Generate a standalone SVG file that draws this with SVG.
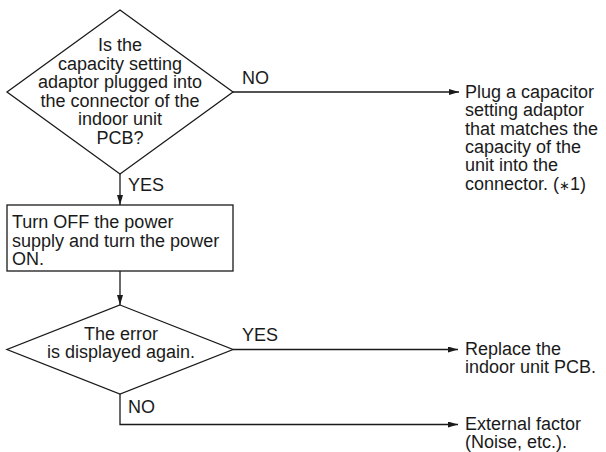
<svg xmlns="http://www.w3.org/2000/svg" width="606" height="452" viewBox="0 0 606 452">
  <defs>
    <marker id="arrow" viewBox="0 0 10 6" refX="10" refY="3" markerWidth="10" markerHeight="6" markerUnits="userSpaceOnUse" orient="auto">
      <path d="M0,0 L10,3 L0,6 Z" fill="#1a1a1a"/>
    </marker>
    <style>
      .shape { fill: #ffffff; stroke: #1a1a1a; stroke-width: 1.3; }
      .conn { fill: none; stroke: #1a1a1a; stroke-width: 1.3; }
      text { font-family: "Liberation Sans", Arial, sans-serif; font-size: 18px; fill: #1a1a1a; }
      .mid { text-anchor: middle; }
      .star { font-family: "DejaVu Sans", sans-serif; font-size: 13px; }
    </style>
  </defs>
  <rect width="606" height="452" fill="#ffffff"/>

  <g id="connectors">
    <polyline class="conn" points="233,92 459,92" marker-end="url(#arrow)"/>
    <polyline class="conn" points="120,174 120,205" marker-end="url(#arrow)"/>
    <polyline class="conn" points="120,271 120,305" marker-end="url(#arrow)"/>
    <polyline class="conn" points="233,349.5 458,349.5" marker-end="url(#arrow)"/>
    <polyline class="conn" points="120,394 120,424.5 458,424.5" marker-end="url(#arrow)"/>
    <text x="242" y="83.5">NO</text>
    <text x="128" y="191">YES</text>
    <text x="242" y="340.5">YES</text>
    <text x="128" y="413">NO</text>
  </g>

  <g id="q-adaptor">
    <polygon class="shape" points="120,10 233,92 120,174 7,92"/>
    <text class="mid" x="120" y="51">Is the</text>
    <text class="mid" x="120" y="69.5">capacity setting</text>
    <text class="mid" x="120" y="88">adaptor plugged into</text>
    <text class="mid" x="120" y="106.5">the connector of the</text>
    <text class="mid" x="120" y="125">indoor unit</text>
    <text class="mid" x="120" y="143.5">PCB?</text>
  </g>

  <g id="plug-adaptor">
    <text x="465" y="98">Plug a capacitor</text>
    <text x="465" y="116.3">setting adaptor</text>
    <text x="465" y="134.6">that matches the</text>
    <text x="465" y="152.9">capacity of the</text>
    <text x="465" y="171.2">unit into the</text>
    <text x="465" y="189.5">connector. (<tspan class="star">∗</tspan>1)</text>
  </g>

  <g id="power-cycle">
    <rect class="shape" x="7" y="205" width="226" height="66"/>
    <text x="12" y="228.3">Turn OFF the power</text>
    <text x="12" y="246.6">supply and turn the power</text>
    <text x="12" y="264.9">ON.</text>
  </g>

  <g id="q-error">
    <polygon class="shape" points="120,305 233,349.5 120,394 7,349.5"/>
    <text class="mid" x="121" y="339.5">The error</text>
    <text class="mid" x="121" y="358">is displayed again.</text>
  </g>

  <g id="replace-pcb">
    <text x="465" y="355">Replace the</text>
    <text x="465" y="373.3">indoor unit PCB.</text>
  </g>

  <g id="external-factor">
    <text x="465" y="429.7">External factor</text>
    <text x="465" y="448">(Noise, etc.).</text>
  </g>
</svg>
